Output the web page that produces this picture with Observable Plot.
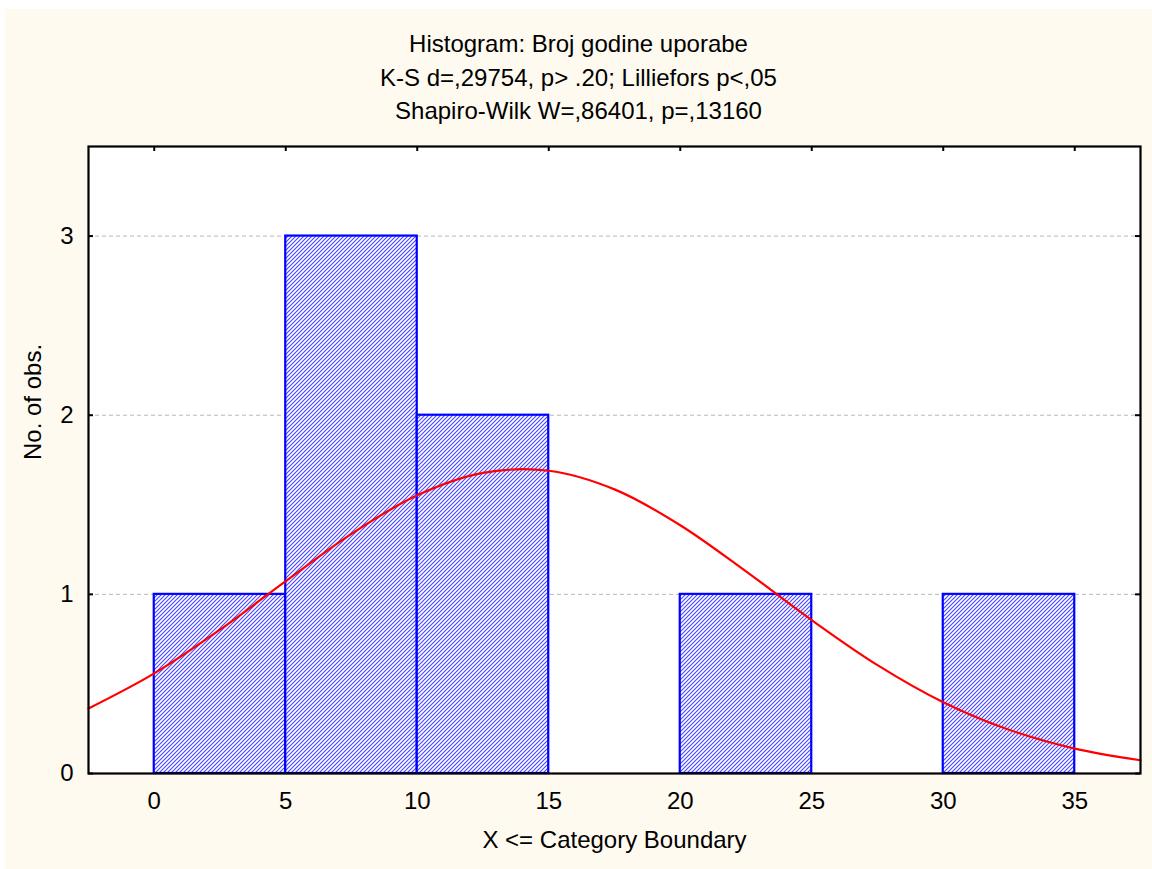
<!DOCTYPE html>
<html>
<head>
<meta charset="utf-8">
<script src="https://cdn.jsdelivr.net/npm/d3@7"></script>
<script src="https://cdn.jsdelivr.net/npm/@observablehq/plot@0.6"></script>
<style>
  html, body { margin: 0; padding: 0; background: #ffffff; }
  #card {
    position: absolute; left: 5px; top: 9px; width: 1147px; height: 860px;
    background: #fffaef; font-family: "Liberation Sans", Arial, sans-serif;
  }
  #titles {
    height: 118px; box-sizing: border-box; padding-top: 18px;
    text-align: center; font-size: 24px; line-height: 33.5px; color: #000;
  }
  #titles div { white-space: nowrap; }
</style>
</head>
<body>
<svg width="0" height="0" style="position:absolute">
  <defs>
    <pattern id="hatch" patternUnits="userSpaceOnUse" width="4" height="4">
      <rect width="4" height="4" fill="#ffffff"></rect>
      <path d="M-1,1 L1,-1 M0,4 L4,0 M3,5 L5,3" stroke="#4848ff" stroke-width="1.15"></path>
    </pattern>
  </defs>
</svg>
<div id="card">
  <div id="titles"></div>
  <div id="chart"></div>
</div>
<script>
// ---- data ----
const titleLines = [
  "Histogram: Broj godine uporabe",
  "K-S d=,29754, p> .20; Lilliefors p<,05",
  "Shapiro-Wilk W=,86401, p=,13160"
];
const xLabel = "X <= Category Boundary";
const yLabel = "No. of obs.";

const binStart = [0, 5, 10, 15, 20, 25, 30];
const binEnd   = [5, 10, 15, 20, 25, 30, 35];
const counts   = [1, 3, 2, 0, 1, 0, 1];

// expected normal curve
const curveX = [-2.5, 0, 2.5, 5, 7.5, 10, 12.5, 15, 17.5, 20, 22.5, 25, 27.5, 30, 32.5, 35, 37.5];
const curveY = [0.363, 0.559, 0.803, 1.074, 1.338, 1.553, 1.678, 1.690, 1.586, 1.386, 1.128, 0.856, 0.605, 0.398, 0.244, 0.139, 0.074];

const xTicks = [0, 5, 10, 15, 20, 25, 30, 35];
const yTicks = [0, 1, 2, 3];
const xDomain = [-2.5, 37.5];
const yDomain = [0, 3.5];

// ---- titles ----
const t = document.getElementById("titles");
titleLines.forEach(s => { const d = document.createElement("div"); d.textContent = s; t.appendChild(d); });

// ---- chart ----
const bins = binStart.map((s, i) => ({x1: s, x2: binEnd[i], count: counts[i]})).filter(d => d.count > 0);
const curve = curveX.map((x, i) => ({x, y: curveY[i]}));

const W = 1147, H = 742, mL = 83, mR = 12, mT = 19, mB = 96;
const fw = W - mL - mR, fh = H - mT - mB;
const fs = 24;

const chart = Plot.plot({
  width: W, height: H,
  marginLeft: mL, marginRight: mR, marginTop: mT, marginBottom: mB,
  style: {background: "transparent", fontFamily: "'Liberation Sans', Arial, sans-serif", fontSize: fs + "px", color: "#000", overflow: "visible"},
  x: {domain: xDomain},
  y: {domain: yDomain},
  marks: [
    Plot.frame({fill: "#ffffff", stroke: null}),
    Plot.ruleY(yTicks.filter(d => d > 0), {y: d => d, stroke: "#b8b8b8", strokeWidth: 1, strokeDasharray: "4,3"}),
    Plot.rect(bins, {x1: "x1", x2: "x2", y1: 0, y2: "count", fill: "url(#hatch)", stroke: "#0000ff", strokeWidth: 2.2}),
    Plot.line(curve, {x: "x", y: "y", stroke: "#ff0000", strokeWidth: 2.2, curve: "catmull-rom"}),
    Plot.frame({stroke: "#000", strokeWidth: 2.2}),
    Plot.tickX(xTicks, {x: d => d, stroke: "#000", strokeWidth: 2, insetBottom: fh - 5}),
    Plot.tickY(yTicks, {y: d => d, stroke: "#000", strokeWidth: 2, insetRight: fw - 5}),
    Plot.tickY(yTicks, {y: d => d, stroke: "#000", strokeWidth: 2, insetLeft: fw - 5}),
    Plot.axisX({ticks: xTicks, tickSize: 0, tickPadding: 18, label: null, fontSize: fs, tickFormat: d => String(d)}),
    Plot.axisY({ticks: yTicks, tickSize: 0, tickPadding: 15, label: null, fontSize: fs, tickFormat: d => String(d)}),
    Plot.text([xLabel], {text: d => d, frameAnchor: "bottom", dy: 74, fontSize: fs, fill: "#000"}),
    Plot.text([yLabel], {text: d => d, frameAnchor: "left", dx: -55, rotate: -90, fontSize: fs, fill: "#000"})
  ]
});
document.getElementById("chart").appendChild(chart);
</script>
</body>
</html>
